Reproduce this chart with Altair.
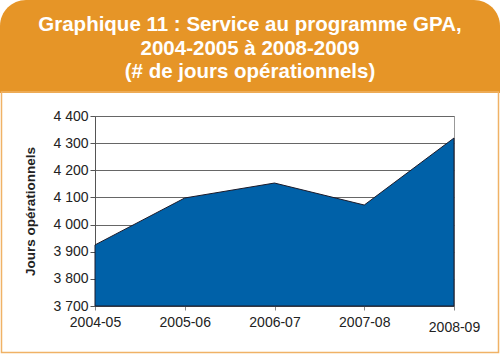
import altair as alt
import pandas as pd

years = ["2004-05", "2005-06", "2006-07", "2007-08", "2008-09"]
jours = [3925, 4098, 4153, 4072, 4319]
title_lines = ["Graphique 11 : Service au programme GPA,",
               "2004-2005 à 2008-2009",
               "(# de jours opérationnels)"]
y_ticks = [3700, 3800, 3900, 4000, 4100, 4200, 4300, 4400]

df = pd.DataFrame({"annee": years, "jours": jours})

ORANGE = "#E69527"
BORDER = "#F0B266"
BLUE = "#0061A8"
W, H = 359, 190
L, T = 95, 116

one = alt.Data(values=[{}])

header = alt.Chart(one).mark_rect(
    color=ORANGE, cornerRadiusTopLeft=26, cornerRadiusTopRight=26
).encode(
    x=alt.value(-L), x2=alt.value(500 - L),
    y=alt.value(-T), y2=alt.value(93 - T)
)

border = alt.Chart(one).mark_rect(
    fill=None, stroke=BORDER, strokeWidth=1.5
).encode(
    x=alt.value(1.5 - L), x2=alt.value(498.5 - L),
    y=alt.value(92 - T), y2=alt.value(352.5 - T)
)

tdf = pd.DataFrame({"t": title_lines, "yy": [31 - T, 55 - T, 78 - T]})
titles = alt.Chart(tdf).mark_text(
    color="white", font="Liberation Sans", fontWeight="bold", fontSize=20.5,
    align="center", baseline="alphabetic"
).encode(
    x=alt.value(250 - L), y=alt.Y("yy:Q", scale=None),
    text="t:N"
)

area = alt.Chart(df).mark_area(
    color=BLUE, stroke="#1b1b2b", strokeWidth=1, opacity=1
).encode(
    x=alt.X("annee:O", sort=years, title=None,
            scale=alt.Scale(type="point", padding=0),
            axis=alt.Axis(labelAngle=0, labelFont="Liberation Sans", labelFontSize=14,
                          labelColor="#222222", tickColor="#888888", tickSize=4,
                          domainColor="#555555",
                          labelPadding={"condition": {"test": "datum.value === '2008-09'", "value": 10}, "value": 5})),
    y=alt.Y("jours:Q", title="Jours opérationnels",
            scale=alt.Scale(domain=[3700, 4400], nice=False, zero=False, clamp=True),
            axis=alt.Axis(values=y_ticks, labelExpr="replace(format(datum.value, ',d'), ',', ' ')",
                          labelFont="Liberation Sans", labelFontSize=14, labelColor="#222222",
                          tickColor="#555555", tickSize=5, labelPadding=2,
                          domainColor="#555555",
                          gridColor="#666666", gridWidth=1,
                          titleFont="Liberation Sans", titleFontSize=13.5, titleFontWeight="bold",
                          titleColor="#222222", titleAngle=-90, titleX=-65, titleY=H / 2,
                          titleAlign="center", titleBaseline="middle"))
)

chart = alt.layer(header, border, titles, area).properties(
    width=W, height=H,
    autosize=alt.AutoSizeParams(type="none"),
    padding={"left": L, "top": T, "right": 500 - L - W, "bottom": 354 - T - H},
    background="white"
).configure_view(stroke="#999999", strokeWidth=1)

chart.save("out.html", embed_options={"renderer": "svg", "actions": False})
